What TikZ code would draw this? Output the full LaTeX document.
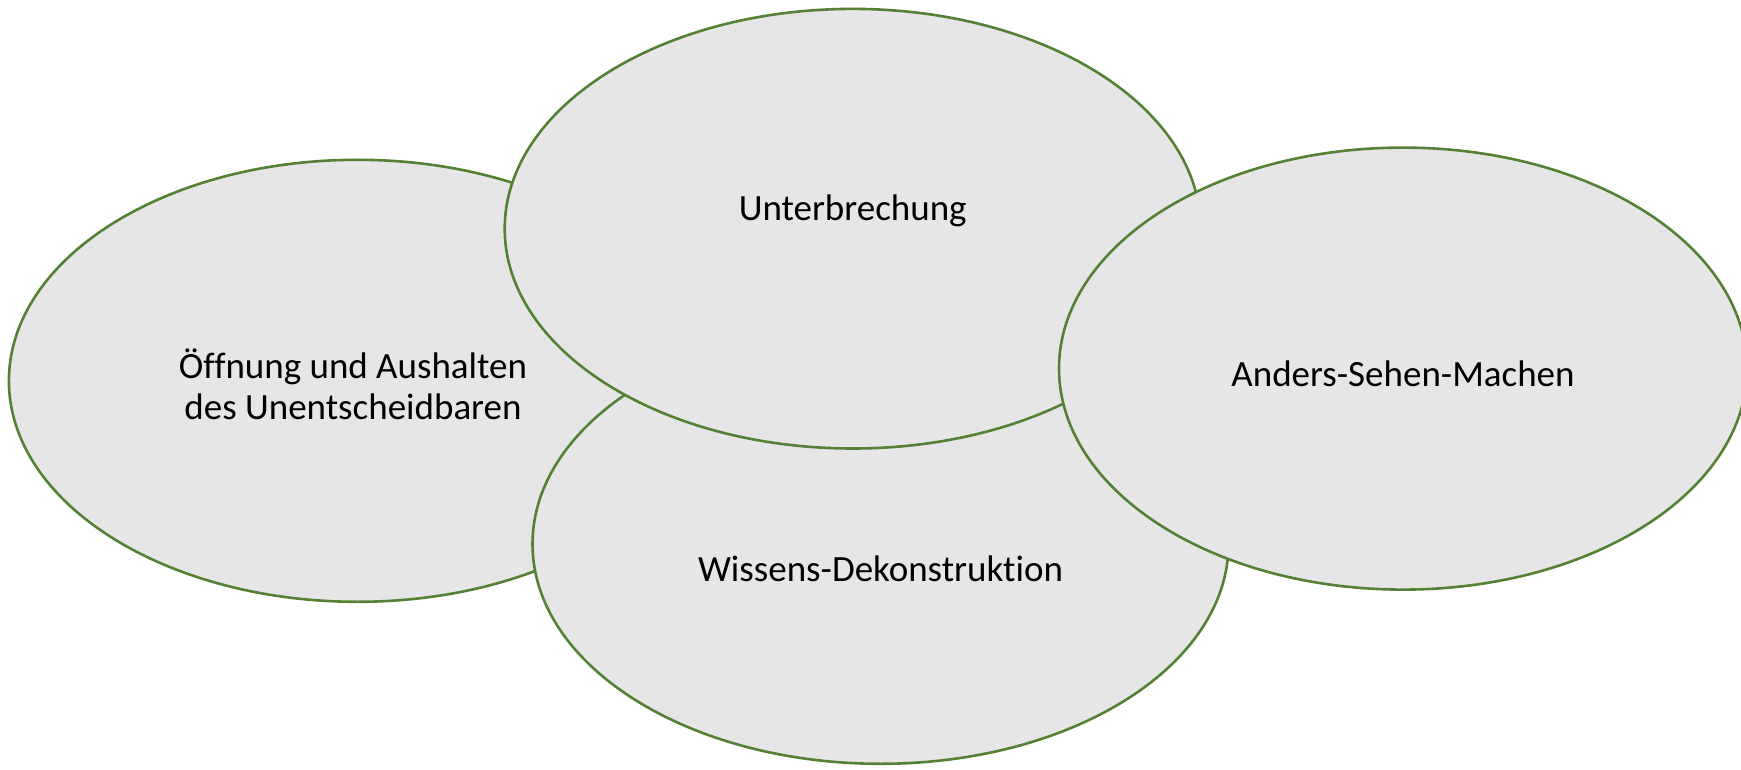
\documentclass[tikz,border=0pt]{standalone}
\usepackage{fontspec}
\setmainfont{Carlito}[Ligatures=NoCommon]
\definecolor{ringgreen}{HTML}{548235}
\definecolor{ringfill}{HTML}{E6E6E6}
\tikzset{
  ring/.style={draw=ringgreen, fill=ringfill, line width=2.6pt},
  lbl/.style={font=\fontsize{37}{41}\selectfont, align=center, text=black, inner sep=0pt}
}
\begin{document}
\begin{tikzpicture}[x=1pt,y=-1pt]
\useasboundingbox (0,0) rectangle (1741,770);
\draw[ring] (357.5,380.8) ellipse [x radius=348.6, y radius=221];
\draw[ring] (880.5,544) ellipse [x radius=348, y radius=219.8];
\draw[ring] (852.7,228.7) ellipse [x radius=348, y radius=219.8];
\draw[ring] (1403,368.6) ellipse [x radius=344, y radius=221];
\node[lbl] (a) at (353,384) {Öffnung und Aushalten\\des Unentscheidbaren};
\node[lbl] (b) at (852.7,210.5) {Unterbrechung};
\node[lbl] (c) at (880.5,569) {Wissens-Dekonstruktion};
\node[lbl] (d) at (1403,373.5) {Anders-Sehen-Machen};
\end{tikzpicture}
\end{document}
